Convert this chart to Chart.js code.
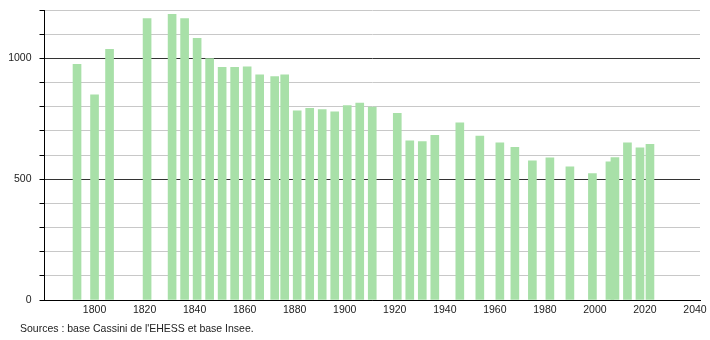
<!DOCTYPE html>
<html>
<head>
<meta charset="utf-8">
<script src="https://cdn.jsdelivr.net/npm/chart.js@4/dist/chart.umd.min.js"></script>
<style>
    html, body { margin: 0; padding: 0; background: #fff; }
    #wrap { position: relative; width: 710px; height: 340px; }
    #sources {
        position: absolute; left: 20px; top: 322px;
        font: 10.5px "Liberation Sans", Arial, sans-serif; color: #222;
        white-space: nowrap;
    }
</style>
</head>
<body>
<div id="wrap">
    <canvas id="popChart" width="710" height="340"></canvas>
    <div id="sources">Sources : base Cassini de l'EHESS et base Insee.</div>
</div>
<script>
// ============ DATA ============
const years = [1793, 1800, 1806, 1821, 1831, 1836, 1841, 1846, 1851, 1856,
    1861, 1866, 1872, 1876, 1881, 1886, 1891, 1896, 1901, 1906,
    1911, 1921, 1926, 1931, 1936, 1946, 1954, 1962, 1968, 1975,
    1982, 1990, 1999, 2006, 2008, 2013, 2018, 2022];
const population = [975, 849, 1037, 1164, 1182, 1164, 1083, 999, 963, 963,
    965, 932, 924, 932, 783, 793, 788, 779, 804, 815,
    798, 772, 659, 656, 681, 733, 678, 650, 632, 576,
    588, 551, 523, 572, 589, 650, 630, 644];
const xTicks = [1800, 1820, 1840, 1860, 1880, 1900, 1920, 1940, 1960, 1980, 2000, 2020, 2040];
const yLabels = [0, 500, 1000];

const FONT = '"Liberation Sans", Arial, sans-serif';
const BAR_COLOR = 'rgb(168, 224, 168)';

// ============ CHART ============
const ctx = document.getElementById('popChart').getContext('2d');
new Chart(ctx, {
    type: 'bar',
    data: {
        datasets: [{
            data: years.map((y, i) => ({ x: y, y: population[i] })),
            backgroundColor: BAR_COLOR,
            borderWidth: 0,
            barThickness: 8
        }]
    },
    options: {
        responsive: false,
        devicePixelRatio: 1,
        animation: false,
        layout: { padding: { left: 0, right: 10, top: 10, bottom: 20 } },
        plugins: {
            legend: { display: false },
            tooltip: { enabled: false }
        },
        scales: {
            x: {
                type: 'linear',
                min: 1780,
                max: 2042,
                offset: false,
                grid: { display: false, offset: false },
                border: { display: true, color: '#000', width: 1 },
                afterBuildTicks: (scale) => {
                    scale.ticks = xTicks.map(v => ({ value: v }));
                },
                afterFit: (scale) => {
                    scale.height = 20;
                    scale.paddingLeft = 0;
                    scale.paddingRight = 0;
                },
                ticks: {
                    padding: -4,
                    maxRotation: 0,
                    autoSkip: false,
                    color: '#222',
                    font: { family: FONT, size: 10.5 },
                    callback: (v) => String(v)
                }
            },
            y: {
                min: 0,
                max: 1200,
                grid: {
                    color: (c) => (c.tick && c.tick.value % 500 === 0) ? '#333' : '#c8c8c8',
                    tickColor: '#000',
                    tickLength: 5,
                    lineWidth: 1
                },
                border: { display: true, color: '#000', width: 1 },
                afterFit: (scale) => {
                    scale.width = 44.5;
                    scale.paddingTop = 0;
                    scale.paddingBottom = 0;
                },
                ticks: {
                    stepSize: 100,
                    padding: 8,
                    autoSkip: false,
                    color: '#222',
                    font: { family: FONT, size: 10.5 },
                    callback: (v) => yLabels.includes(v) ? String(v) : ''
                }
            }
        }
    }
});
</script>
</body>
</html>
